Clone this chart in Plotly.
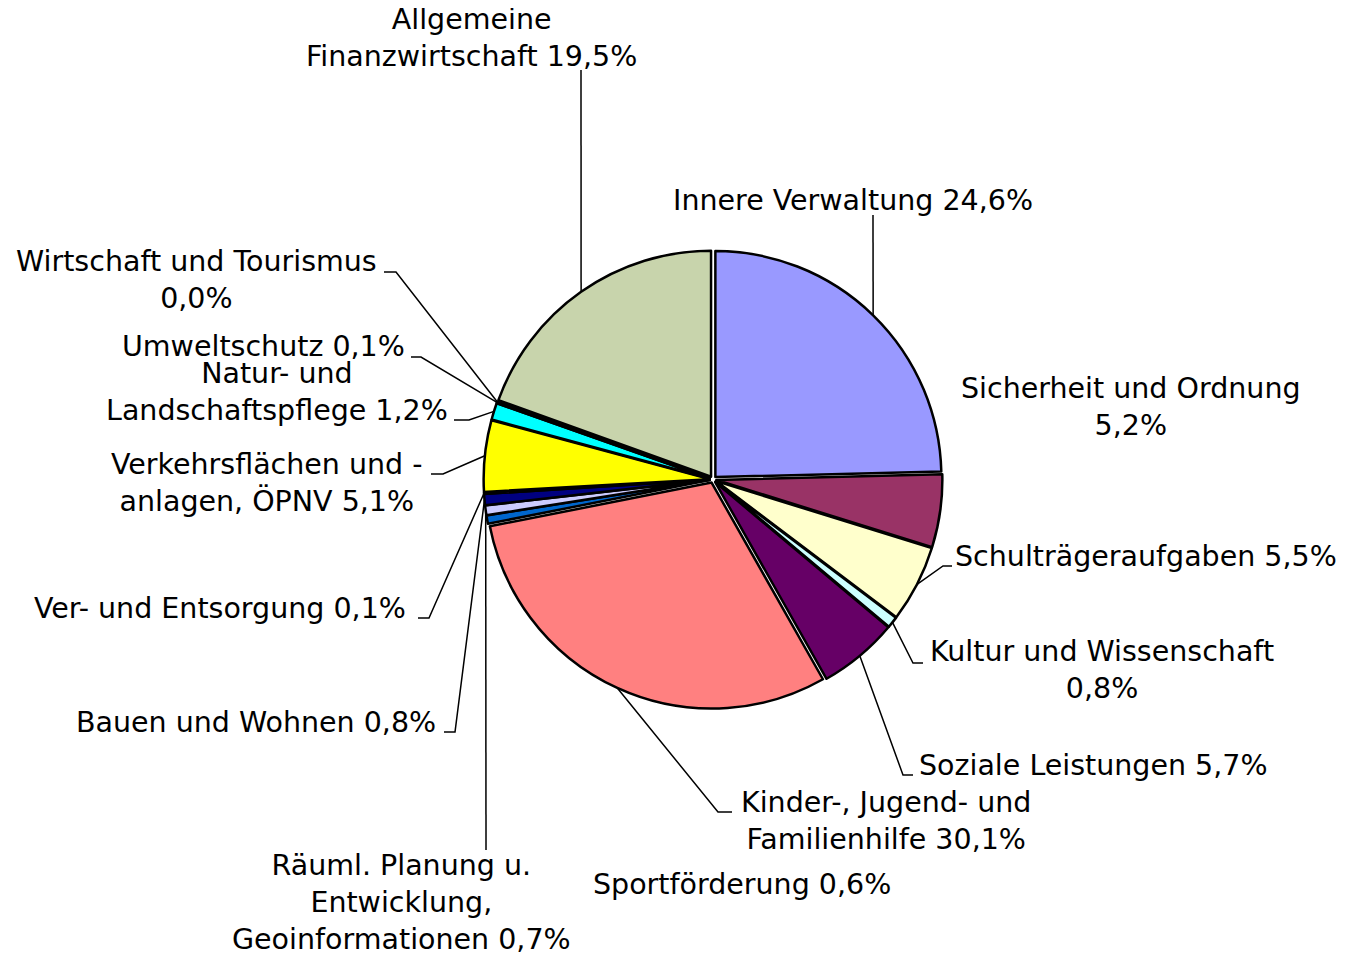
import math
import plotly.graph_objects as go

W, H = 1340, 945   # visible area of the page (page body has an 8px margin)
OX, OY = 8, 8

categories = [
    "Innere Verwaltung", "Sicherheit und Ordnung", "Schulträgeraufgaben",
    "Kultur und Wissenschaft", "Soziale Leistungen",
    "Kinder-, Jugend- und Familienhilfe", "Sportförderung",
    "Räuml. Planung u. Entwicklung, Geoinformationen", "Bauen und Wohnen",
    "Ver- und Entsorgung", "Verkehrsflächen und -anlagen, ÖPNV",
    "Natur- und Landschaftspflege", "Umweltschutz", "Wirtschaft und Tourismus",
    "Allgemeine Finanzwirtschaft",
]
values = [24.6, 5.2, 5.5, 0.8, 5.7, 30.1, 0.6, 0.7, 0.8, 0.1, 5.1, 1.2, 0.1, 0.0, 19.5]
colors = ["#9999FF", "#993366", "#FFFFCC", "#CCFFFF", "#660066", "#FF8080", "#0066CC",
          "#CCCCFF", "#000080", "#FF00FF", "#FFFF00", "#00FFFF", "#800080", "#800000",
          "#C8D4AC"]
label_texts = [
    "Innere Verwaltung 24,6%", "Sicherheit und Ordnung<br>5,2%",
    "Schulträgeraufgaben 5,5%", "Kultur und Wissenschaft<br>0,8%",
    "Soziale Leistungen 5,7%", "Kinder-, Jugend- und<br>Familienhilfe 30,1%",
    "Sportförderung 0,6%", "Räuml. Planung u.<br>Entwicklung,<br>Geoinformationen 0,7%",
    "Bauen und Wohnen 0,8%", "Ver- und Entsorgung 0,1%",
    "Verkehrsflächen und -<br>anlagen, ÖPNV 5,1%", "Natur- und<br>Landschaftspflege 1,2%",
    "Umweltschutz 0,1%", "Wirtschaft und Tourismus<br>0,0%",
    "Allgemeine<br>Finanzwirtschaft 19,5%",
]

# layout: label centres (px) and leader elbow / end points (px), None = no leader
label_pos = [(853, 201), (1131, 407), (1146, 556), (1102, 670), (1093, 765),
             (886, 821), (742, 884), (401, 902), (256, 722), (220, 608),
             (267, 483), (277, 392), (263, 346), (196, 280), (471, 38)]
leader_pts = [
    [(873, 215)], None, [(943, 566), (952, 566)], [(913, 663), (923, 663)],
    [(903, 775), (913, 775)], [(718, 812), (732, 812)], None, [(486, 850)],
    [(455, 732), (444, 732)], [(429, 618), (418, 618)], [(443, 474), (431, 474)],
    [(469, 420), (454, 420)], [(421, 357), (411, 357)], [(396, 272), (384, 272)],
    [(581, 70)],
]

CX, CY, R, PULL = 713, 479.5, 226, 0.015
half = R * (1 + PULL)


def px(x, y):
    return (x - OX) / W, 1 - (y - OY) / H


d0 = px(CX - half, CY + half)
d1 = px(CX + half, CY - half)
fig = go.Figure(go.Pie(
    labels=categories, values=values, sort=False, direction="clockwise",
    rotation=0, pull=PULL, textinfo="none",
    marker=dict(colors=colors, line=dict(color="black", width=2.5)),
    domain=dict(x=[d0[0], d1[0]], y=[d0[1], d1[1]]),
    showlegend=False,
))

total = sum(values)
cum = 0.0
font = dict(family="Verdana, DejaVu Sans, sans-serif", size=28.5, color="black")
for i, v in enumerate(values):
    mid = (cum + v / 2) / total * 2 * math.pi
    cum += v
    fx, fy = px(*label_pos[i])
    fig.add_annotation(x=fx, y=fy, xref="paper", yref="paper", text=label_texts[i],
                       showarrow=False, xanchor="center", yanchor="middle",
                       align="center", font=font)
    if leader_pts[i]:
        ex = CX + (R + R * PULL) * math.sin(mid)
        ey = CY - (R + R * PULL) * math.cos(mid)
        pts = [(ex, ey)] + leader_pts[i]
        path = "M " + " L ".join(f"{px(a, b)[0]},{px(a, b)[1]}" for a, b in pts)
        fig.add_shape(type="path", path=path, xref="paper", yref="paper",
                      line=dict(color="black", width=1.5), layer="above")

fig.update_layout(width=W, height=H, margin=dict(l=0, r=0, t=0, b=0),
                  paper_bgcolor="white", plot_bgcolor="white")
fig.write_html("out.html")
